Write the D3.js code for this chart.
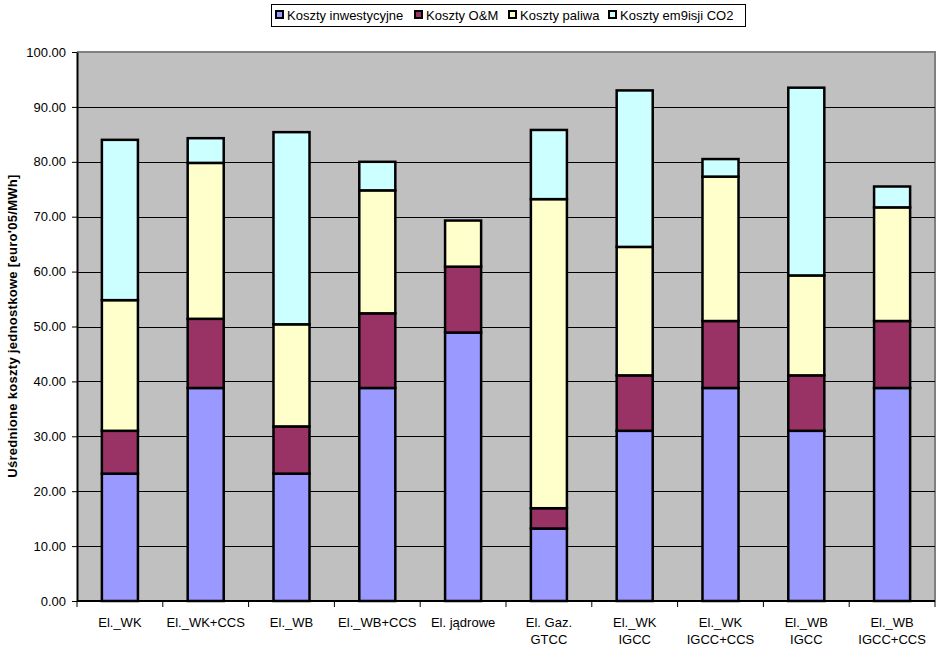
<!DOCTYPE html>
<html><head><meta charset="utf-8">
<script src="https://cdn.jsdelivr.net/npm/d3@7"></script>
<style>body{margin:0;background:#fff;} svg{display:block;font-family:"Liberation Sans",Arial,sans-serif;}</style>
</head><body>
<svg id="c" width="942" height="653"></svg>
<script>
const categories = [["El._WK"],["El._WK+CCS"],["El._WB"],["El._WB+CCS"],["El. jądrowe"],["El. Gaz.","GTCC"],["El._WK","IGCC"],["El._WK","IGCC+CCS"],["El._WB","IGCC"],["El._WB","IGCC+CCS"]];
const seriesNames = ["Koszty inwestycyjne","Koszty O&M","Koszty paliwa","Koszty em9isji CO2"];
const inwest = [23.2, 38.8, 23.2, 38.8, 48.9, 13.2, 31.0, 38.8, 31.0, 38.8];
const om     = [7.8, 12.6, 8.6, 13.6, 12.0, 3.7, 10.1, 12.2, 10.1, 12.2];
const paliwo = [23.8, 28.4, 18.6, 22.4, 8.4, 56.3, 23.4, 26.3, 18.2, 20.7];
const co2    = [29.2, 4.5, 35.0, 5.2, 0, 12.6, 28.5, 3.2, 34.2, 3.8];
const yTicks = [0,10,20,30,40,50,60,70,80,90,100];
const colors = ["#9999FF","#993366","#FFFFCC","#CCFFFF"];

const svg = d3.select("#c");
const L=77, R=935, T=52, B=601;
const x = d3.scaleBand().domain(d3.range(categories.length)).range([L,R]).paddingInner(0.58).paddingOuter(0.29);
const y = d3.scaleLinear().domain([0,100]).range([B,T]);

svg.append("rect").attr("x",L).attr("y",T).attr("width",R-L).attr("height",B-T).attr("fill","#C0C0C0");
svg.append("path").attr("d",`M${L},${T}H${R}V${B}`).attr("fill","none").attr("stroke","#808080").attr("stroke-width",2);

svg.append("g").selectAll("line").data(yTicks.filter(d=>d>0&&d<100)).join("line")
  .attr("x1",L).attr("x2",R).attr("y1",d=>Math.round(y(d))+0.5).attr("y2",d=>Math.round(y(d))+0.5)
  .attr("stroke","#000").attr("stroke-width",1);

const data = categories.map((c,i)=>({i, v:[inwest[i],om[i],paliwo[i],co2[i]]}));
const stack = d3.stack().keys([0,1,2,3]).value((d,k)=>d.v[k]);
const layers = stack(data);
svg.append("g").selectAll("g").data(layers).join("g").attr("fill",(d,k)=>colors[k])
  .selectAll("rect").data(d=>d.filter(p=>p[1]-p[0]>0)).join("rect")
  .attr("x",d=>x(d.data.i)).attr("width",x.bandwidth())
  .attr("y",d=>y(d[1])).attr("height",d=>y(d[0])-y(d[1]))
  .attr("stroke","#000").attr("stroke-width",2.5);

// y axis
const yAxis = d3.axisLeft(y).tickValues(yTicks).tickFormat(d3.format(".2f")).tickSize(5).tickSizeOuter(0);
const gy = svg.append("g").attr("transform",`translate(${L},0)`).call(yAxis);
gy.select(".domain").attr("stroke","#000").attr("stroke-width",2);
gy.selectAll("text").attr("font-size",13).attr("fill","#000").attr("dx",-3);
gy.selectAll(".tick line").attr("stroke","#000");

// x axis
svg.append("line").attr("x1",L).attr("x2",R).attr("y1",B).attr("y2",B).attr("stroke","#000").attr("stroke-width",2);
const step = x.step();
svg.append("g").selectAll("line").data(d3.range(categories.length+1)).join("line")
  .attr("x1",d=>L+d*step).attr("x2",d=>L+d*step).attr("y1",B).attr("y2",B+6).attr("stroke","#000");
const xl = svg.append("g").selectAll("text").data(categories).join("text")
  .attr("x",(d,i)=>x(i)+x.bandwidth()/2).attr("y",627).attr("text-anchor","middle").attr("font-size",13).attr("fill","#000");
xl.selectAll("tspan").data(d=>d).join("tspan").attr("x",function(){return this.parentNode.getAttribute("x");})
  .attr("dy",(d,j)=>j===0?0:17).text(d=>d);

// y label
svg.append("text").attr("transform","translate(17,326) rotate(-90)").attr("text-anchor","middle")
  .attr("font-size",13).attr("font-weight","bold").attr("letter-spacing",0.3).text("Uśrednione koszty jednostkowe [euro'05/MWh]");

// legend
const lg = svg.append("g");
lg.append("rect").attr("x",271.5).attr("y",4.5).attr("width",474).attr("height",22).attr("fill","#fff").attr("stroke","#000");
const legX = [275, 414, 508, 608];
seriesNames.forEach((n,k)=>{
  lg.append("rect").attr("x",legX[k]+1).attr("y",11).attr("width",7).attr("height",7).attr("fill",colors[k]).attr("stroke","#000").attr("stroke-width",2);
  lg.append("text").attr("x",legX[k]+12).attr("y",20).attr("font-size",13).attr("fill","#000").text(n);
});
</script>
</body></html>
